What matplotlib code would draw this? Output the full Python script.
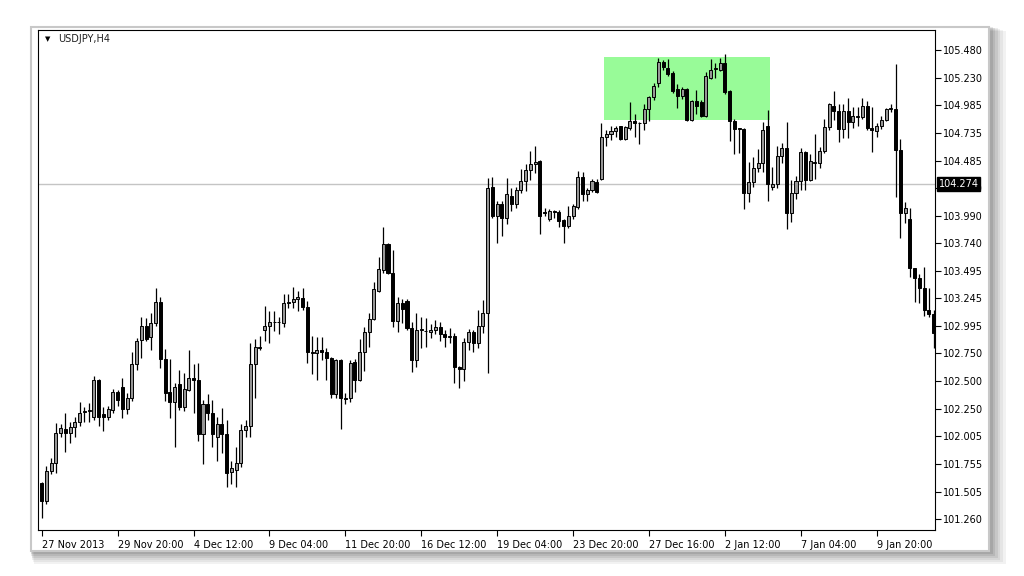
import numpy as np
import matplotlib
matplotlib.use("Agg")
from matplotlib import pyplot as plt
from matplotlib import patches
from matplotlib import transforms

# USDJPY H4 candles (open, high, low, close)
opens = [101.58, 101.42, 101.69, 101.76, 102.03, 102.07, 102.03, 102.09, 102.13, 102.22,
         102.23, 102.18, 102.51, 102.20, 102.18, 102.24, 102.40, 102.45, 102.25, 102.35,
         102.65, 102.87, 103.00, 102.90, 103.02, 103.21, 102.70, 102.40, 102.31, 102.47,
         102.27, 102.42, 102.53, 102.51, 102.02, 102.29, 102.21, 102.00, 102.11, 102.02,
         101.68, 101.70, 101.76, 102.06, 102.10, 102.65, 102.81, 102.96, 103.00, 103.03,
         103.03, 103.02, 103.20, 103.21, 103.24, 103.25, 103.17, 102.76, 102.75, 102.78,
         102.76, 102.71, 102.38, 102.69, 102.35, 102.35, 102.67, 102.51, 102.76, 102.94,
         103.06, 103.31, 103.50, 103.73, 103.47, 103.04, 103.20, 103.22, 102.98, 102.69,
         102.96, 102.95, 102.94, 102.96, 102.99, 102.92, 102.90, 102.91, 102.63, 102.61,
         102.85, 102.94, 102.84, 103.00, 103.11, 104.25, 103.99, 104.09, 103.97, 104.17,
         104.09, 104.22, 104.30, 104.40, 104.45, 104.48, 104.02, 103.96, 104.03, 104.02,
         103.95, 103.90, 103.99, 104.07, 104.34, 104.18, 104.22, 104.29, 104.32, 104.70,
         104.72, 104.75, 104.80, 104.68, 104.78, 104.84, 104.82, 104.82, 104.95, 105.06,
         105.18, 105.37, 105.32, 105.27, 105.13, 105.07, 105.13, 104.85, 105.02, 105.01,
         104.89, 105.23, 105.31, 105.30, 105.36, 105.11, 104.84, 104.77, 104.77, 104.19,
         104.29, 104.42, 104.46, 104.80, 104.25, 104.27, 104.53, 104.60, 104.01, 104.19,
         104.30, 104.56, 104.31, 104.46, 104.46, 104.57, 104.79, 104.98, 104.93, 104.77,
         104.93, 104.83, 104.88, 104.88, 104.98, 104.78, 104.75, 104.80, 104.85, 104.95,
         104.95, 104.58, 104.01, 103.96, 103.52, 103.43, 103.34, 103.14, 103.10]
highs = [101.59, 101.74, 101.81, 102.12, 102.11, 102.21, 102.13, 102.18, 102.31, 102.27,
         102.30, 102.55, 102.52, 102.27, 102.28, 102.43, 102.42, 102.53, 102.39, 102.76,
         102.89, 103.08, 103.07, 103.11, 103.34, 103.26, 102.79, 102.70, 102.48, 102.60,
         102.57, 102.78, 102.65, 102.66, 102.33, 102.38, 102.33, 102.18, 102.26, 102.15,
         101.78, 101.91, 102.11, 102.15, 102.84, 102.88, 102.91, 103.18, 103.13, 103.13,
         103.08, 103.28, 103.28, 103.35, 103.31, 103.34, 103.22, 102.91, 102.90, 102.90,
         102.80, 102.72, 102.70, 102.70, 102.39, 102.69, 102.70, 102.88, 102.99, 103.11,
         103.39, 103.62, 103.89, 103.74, 103.68, 103.26, 103.24, 103.24, 103.03, 103.11,
         103.08, 103.07, 103.01, 103.05, 103.03, 102.96, 102.98, 102.93, 102.64, 102.89,
         102.97, 102.96, 103.14, 103.23, 104.33, 104.34, 104.12, 104.12, 104.33, 104.24,
         104.25, 104.41, 104.45, 104.57, 104.62, 104.49, 104.06, 104.05, 104.04, 104.04,
         103.96, 104.08, 104.09, 104.39, 104.38, 104.24, 104.32, 104.32, 104.82, 104.76,
         104.80, 104.80, 104.80, 104.80, 105.01, 104.90, 104.83, 104.99, 105.07, 105.18,
         105.41, 105.39, 105.40, 105.29, 105.17, 105.15, 105.14, 105.03, 105.12, 105.03,
         105.28, 105.40, 105.36, 105.41, 105.44, 105.12, 104.86, 104.78, 104.78, 104.47,
         104.52, 104.59, 104.83, 104.94, 104.43, 104.62, 104.64, 104.83, 104.31, 104.35,
         104.60, 104.57, 104.54, 104.72, 104.61, 104.86, 105.00, 105.11, 104.99, 104.99,
         105.05, 104.97, 104.97, 105.05, 105.02, 104.97, 104.82, 104.89, 104.96, 104.99,
         105.35, 104.68, 104.11, 104.06, 103.52, 103.46, 103.53, 103.34, 103.14]
lows = [101.27, 101.39, 101.66, 101.67, 102.00, 101.86, 101.94, 102.00, 102.10, 102.13,
        102.13, 102.15, 102.10, 102.05, 102.15, 102.21, 102.28, 102.17, 102.20, 102.32,
        102.60, 102.71, 102.86, 102.78, 103.00, 102.62, 102.32, 102.17, 101.91, 102.24,
        102.23, 102.41, 102.21, 101.96, 101.75, 102.15, 101.91, 101.78, 101.85, 101.55,
        101.57, 101.55, 101.73, 102.00, 102.00, 102.35, 102.78, 102.86, 102.84, 102.95,
        102.92, 102.99, 103.16, 103.16, 103.13, 103.14, 102.66, 102.56, 102.51, 102.69,
        102.51, 102.35, 102.35, 102.07, 102.29, 102.31, 102.40, 102.50, 102.59, 102.81,
        103.05, 103.30, 103.47, 103.46, 102.99, 102.94, 103.02, 102.96, 102.58, 102.63,
        102.80, 102.81, 102.89, 102.92, 102.86, 102.81, 102.84, 102.48, 102.44, 102.50,
        102.78, 102.76, 102.80, 102.93, 102.57, 103.97, 103.74, 103.81, 103.91, 104.03,
        104.06, 104.19, 104.21, 104.31, 104.37, 103.82, 103.99, 103.94, 103.97, 103.89,
        103.74, 103.88, 103.96, 104.05, 104.12, 104.12, 104.20, 104.19, 104.31, 104.62,
        104.67, 104.70, 104.67, 104.67, 104.76, 104.70, 104.63, 104.76, 104.84, 105.03,
        105.15, 105.30, 105.25, 105.09, 104.96, 105.04, 104.84, 104.84, 104.90, 104.88,
        104.88, 105.22, 105.23, 105.29, 105.08, 104.66, 104.54, 104.55, 104.05, 104.11,
        104.25, 104.38, 104.38, 104.12, 104.22, 104.24, 104.46, 103.87, 103.93, 104.14,
        104.22, 104.22, 104.30, 104.32, 104.42, 104.55, 104.76, 104.85, 104.65, 104.69,
        104.69, 104.78, 104.80, 104.86, 104.76, 104.56, 104.70, 104.77, 104.84, 104.92,
        104.16, 103.79, 103.92, 103.44, 103.21, 103.20, 103.09, 103.08, 102.80]
closes = [101.42, 101.69, 101.76, 102.03, 102.08, 102.03, 102.09, 102.13, 102.21, 102.23,
          102.24, 102.51, 102.18, 102.18, 102.25, 102.40, 102.33, 102.25, 102.35, 102.65,
          102.86, 103.00, 102.88, 103.02, 103.21, 102.70, 102.39, 102.31, 102.45, 102.27,
          102.43, 102.53, 102.51, 102.02, 102.29, 102.21, 102.02, 102.11, 102.02, 101.67,
          101.72, 101.76, 102.06, 102.10, 102.65, 102.81, 102.80, 103.00, 103.03, 103.03,
          103.03, 103.20, 103.21, 103.24, 103.26, 103.17, 102.76, 102.75, 102.78, 102.76,
          102.71, 102.38, 102.69, 102.35, 102.34, 102.66, 102.51, 102.76, 102.94, 103.06,
          103.33, 103.51, 103.73, 103.47, 103.04, 103.20, 103.15, 102.98, 102.69, 102.96,
          102.97, 102.95, 102.96, 102.99, 102.92, 102.90, 102.91, 102.63, 102.61, 102.85,
          102.94, 102.84, 103.00, 103.11, 104.24, 103.99, 104.09, 103.97, 104.18, 104.09,
          104.22, 104.30, 104.40, 104.45, 104.47, 103.99, 104.01, 104.03, 104.02, 103.94,
          103.90, 103.99, 104.08, 104.34, 104.18, 104.22, 104.30, 104.20, 104.70, 104.72,
          104.75, 104.78, 104.68, 104.79, 104.84, 104.82, 104.82, 104.95, 105.06, 105.16,
          105.37, 105.33, 105.26, 105.11, 105.07, 105.13, 104.85, 105.02, 104.98, 104.89,
          105.25, 105.30, 105.32, 105.36, 105.10, 104.84, 104.77, 104.77, 104.19, 104.29,
          104.42, 104.46, 104.76, 104.27, 104.27, 104.53, 104.60, 104.01, 104.19, 104.30,
          104.56, 104.31, 104.48, 104.47, 104.57, 104.79, 104.99, 104.93, 104.77, 104.93,
          104.83, 104.89, 104.88, 104.98, 104.78, 104.76, 104.80, 104.85, 104.95, 104.95,
          104.58, 104.01, 104.06, 103.52, 103.43, 103.34, 103.14, 103.10, 102.93]

time_labels = ["27 Nov 2013", "29 Nov 20:00", "4 Dec 12:00", "9 Dec 04:00",
               "11 Dec 20:00", "16 Dec 12:00", "19 Dec 04:00", "23 Dec 20:00",
               "27 Dec 16:00", "2 Jan 12:00", "7 Jan 04:00", "9 Jan 20:00"]
time_label_bars = [0, 16, 32, 48, 64, 80, 96, 112, 128, 144, 160, 176]
price_ticks = [105.480, 105.230, 104.985, 104.735, 104.485, 104.240, 103.990, 103.740,
               103.495, 103.245, 102.995, 102.750, 102.500, 102.250, 102.005, 101.755,
               101.505, 101.260]
hline_price = 104.274
# green box: bar range and price range
box_bars = [118.6, 153.5]
box_prices = [104.85, 105.417]

o = np.array(opens)
h = np.array(highs)
l = np.array(lows)
c = np.array(closes)
x = np.arange(len(o))
bull = c >= o

fig = plt.figure(figsize=(10.24, 5.76), dpi=100)
fig.patch.set_facecolor("white")

# window frame with soft shadow
for k, a in enumerate([0.05, 0.05, 0.06, 0.07, 0.08, 0.09]):
    d = (6 - k) * 2.0
    fig.patches.append(patches.Rectangle(
        ((30 + d * 0.3) / 1024, 1 - (552 + d) / 576), (960 + d) / 1024, (526 + d * 0.6) / 576,
        transform=fig.transFigure, facecolor="black", edgecolor="none", alpha=a, zorder=0))
fig.patches.append(patches.Rectangle(
    (31 / 1024, 1 - 551 / 576), 958 / 1024, 524 / 576, transform=fig.transFigure,
    facecolor="white", edgecolor="#c8c8c8", linewidth=1.5, zorder=1))

ax = fig.add_axes([38 / 1024, 1 - 530 / 576, 897 / 1024, 500 / 576])
ax.set_facecolor("white")
ax.set_zorder(2)

ax.add_patch(patches.Rectangle((box_bars[0], box_prices[0]), box_bars[1] - box_bars[0],
                               box_prices[1] - box_prices[0], facecolor="#98fb98",
                               edgecolor="none", zorder=1))
ax.axhline(hline_price, color="#c4c4c4", linewidth=1.0, zorder=1)

ax.vlines(x, l, h, color="black", linewidth=0.9, zorder=2)
body_bottom = np.minimum(o, c)
body_height = np.maximum(np.abs(c - o), 0.004)
ax.bar(x[bull], body_height[bull], bottom=body_bottom[bull], width=0.64,
       color="#969696", edgecolor="black", linewidth=0.7, zorder=3)
ax.bar(x[~bull], body_height[~bull], bottom=body_bottom[~bull], width=0.64,
       color="black", edgecolor="black", linewidth=0.7, zorder=3)

ax.set_xlim(-0.78, 188.3)
ax.set_ylim(101.16, 105.66)

ax.yaxis.tick_right()
ax.set_yticks(price_ticks)
ax.set_yticklabels(["%.3f" % p for p in price_ticks])
ax.set_xticks(time_label_bars)
ax.set_xticklabels(time_labels)
for lbl in ax.get_xticklabels():
    lbl.set_horizontalalignment("left")
ax.tick_params(axis="both", direction="out", length=4, width=0.8, colors="black",
               labelsize=7, pad=2)
ax.tick_params(axis="x", pad=3)
for s in ax.spines.values():
    s.set_color("black")
    s.set_linewidth(0.8)

# current price box on the right scale (covers the 104.240 label like the original)
trans = transforms.blended_transform_factory(ax.transAxes, ax.transData)
ax.text(1.004, hline_price, "%.3f" % hline_price, transform=trans, color="white",
        fontsize=7, va="center", ha="left", zorder=5, clip_on=False,
        bbox=dict(facecolor="black", edgecolor="black", pad=1.2))

ax.text(0.008, 0.988, "\u25bc", transform=ax.transAxes, fontsize=5, va="top", ha="left",
        color="black")
ax.text(0.022, 0.991, "USDJPY,H4", transform=ax.transAxes, fontsize=7, va="top",
        ha="left", color="#202020")

plt.savefig("out.png", dpi=100, facecolor="white")
